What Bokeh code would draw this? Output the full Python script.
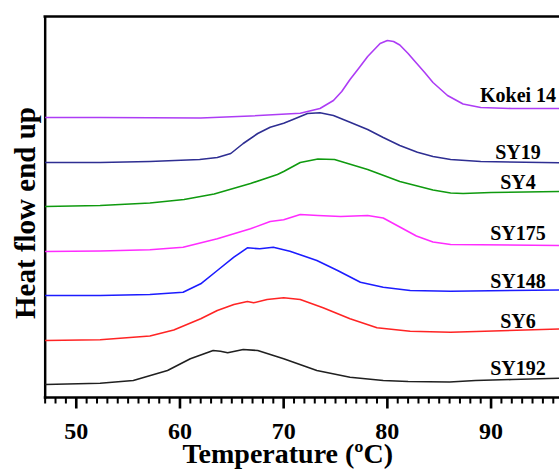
from bokeh.plotting import figure
from bokeh.models import LinearAxis, FixedTicker, Range1d, Title, Span
from bokeh.core.properties import value
from bokeh.embed import file_html
from bokeh.resources import INLINE

# ---- data (temperature in °C, heat flow in arbitrary stacked units) ----
kokei_T = [47.0, 52.3, 57.1, 62.0, 66.8, 71.6, 73.5, 74.8, 75.6, 76.4, 77.3, 78.1, 79.3, 80.0, 80.6, 81.2, 82.0, 82.5, 83.6, 84.4, 85.8, 87.3, 89.0, 92.0, 96.6]
kokei_hf = [280, 280, 279.7, 279.5, 281.5, 284.3, 289, 297, 306, 318, 330, 341, 354, 357, 356, 352.5, 344, 338, 325, 315, 302, 293.5, 290, 289, 289]

sy19_T = [47.0, 52.3, 57.1, 61.9, 63.6, 64.9, 66.1, 67.5, 68.7, 70.0, 70.9, 72.3, 73.5, 74.8, 76.4, 78.1, 79.6, 81.2, 82.9, 84.4, 86.1, 89.0, 96.6]
sy19_hf = [235, 235, 236, 238, 240, 244, 254, 264, 270.3, 274.3, 278, 284, 284.7, 282, 275.3, 268, 260, 252, 245.3, 241, 238, 236, 234.7]

sy4_T = [47.0, 52.3, 57.1, 60.4, 63.3, 66.8, 69.4, 70.0, 71.6, 73.3, 74.9, 78.1, 81.2, 84.4, 86.1, 87.3, 90.0, 96.6]
sy4_hf = [191, 192, 194.5, 198, 203.5, 214, 223, 226, 235, 238.5, 238, 228, 216, 207.5, 204.5, 204, 205, 206]

sy175_T = [47.0, 52.3, 57.1, 60.3, 63.6, 66.8, 68.7, 70.0, 71.6, 73.3, 75.5, 78.1, 79.6, 81.2, 82.8, 84.4, 86.1, 96.6]
sy175_hf = [146, 146.5, 147.7, 150.3, 158.7, 168.7, 176, 177.7, 183, 182, 181, 182, 179.5, 170.5, 161.5, 155.5, 153, 152]

sy148_T = [47.0, 52.3, 57.1, 60.3, 62.0, 63.6, 65.2, 66.5, 67.7, 69.0, 70.6, 73.2, 75.2, 77.4, 79.6, 82.2, 86.1, 96.6]
sy148_hf = [102, 102, 103, 105.3, 113.7, 127, 140.3, 149.7, 148.7, 150.3, 146.3, 137, 127, 115.3, 110.3, 107, 106.3, 107.5]

sy6_T = [47.0, 52.3, 57.1, 59.4, 62.0, 63.6, 65.2, 66.5, 67.1, 68.4, 70.0, 71.6, 73.8, 76.4, 79.0, 82.2, 86.1, 96.6]
sy6_hf = [57, 57.7, 61.5, 67.5, 78.7, 87, 93, 96, 94.7, 98, 99.7, 98, 89.7, 78.7, 69.7, 66.3, 65.3, 68.5]

sy192_T = [47.0, 52.3, 55.5, 58.8, 61.0, 63.2, 63.9, 64.6, 66.1, 67.5, 70.0, 73.2, 76.4, 79.6, 82.0, 86.0, 88.5, 92.0, 96.6]
sy192_hf = [13, 14.3, 17, 27, 38.7, 47, 46.3, 44.7, 48, 47, 38.7, 27, 20.3, 17, 16, 15.5, 17, 18, 19.3]

series_names = ["Kokei 14", "SY19", "SY4", "SY175", "SY148", "SY6", "SY192"]
x_major_ticks = [50, 60, 70, 80, 90]
x_minor_ticks = list(range(47, 97))

# ---- layout / styles ----
X_START, X_END = 46.84, 96.6      # visible temperature window
AXIS_X = 47.0                     # left axis position
Y_TOP = 381
TICK_ROOM = 12                    # room under baseline for outward ticks
MAJOR_LEN, MINOR_LEN = 11, 6
label_x = [92.6] * 7
label_y = [302.5, 246, 216, 165, 117, 76.5, 29.5]
colors = ["#ad3cf5", "#2e2e92", "#0f9a0f", "#ff2cff", "#1c1cff", "#ff2424", "#202020"]
FONT = "Liberation Serif"

p = figure(width=559, height=473, output_backend="svg", toolbar_location=None,
           x_range=Range1d(X_START, X_END), y_range=Range1d(-TICK_ROOM, Y_TOP),
           x_axis_type=None, y_axis_type=None,
           min_border_left=43, min_border_right=0, min_border_top=16, min_border_bottom=64)
p.outline_line_color = None
p.grid.visible = False

# bottom axis: only the tick labels (line and ticks are drawn in the frame below)
xa = LinearAxis(ticker=FixedTicker(ticks=x_major_ticks),
                axis_line_color=None, major_tick_line_color=None, minor_tick_line_color=None,
                major_tick_out=0, major_tick_in=0, minor_tick_out=0, minor_tick_in=0,
                major_label_text_font=FONT, major_label_text_font_style="bold",
                major_label_text_font_size="24px", major_label_text_color="black",
                major_label_standoff=14)
p.add_layout(xa, "below")

# top axis (line only)
ta = LinearAxis(ticker=FixedTicker(ticks=[]), axis_line_width=2.5, axis_line_color="black",
                major_tick_line_color=None, minor_tick_line_color=None,
                major_tick_out=0, minor_tick_out=0, major_label_text_font_size="0px")
p.add_layout(ta, "above")

# x axis baseline, ticks and left axis line
minor_only = [t for t in x_minor_ticks if t not in x_major_ticks]
p.segment(x0=minor_only, x1=minor_only, y0=[0] * len(minor_only),
          y1=[-MINOR_LEN] * len(minor_only), line_color="black", line_width=2,
          line_cap="butt")
p.segment(x0=x_major_ticks, x1=x_major_ticks, y0=[0] * len(x_major_ticks),
          y1=[-MAJOR_LEN] * len(x_major_ticks), line_color="black", line_width=2.6,
          line_cap="butt")
p.add_layout(Span(location=0, dimension="width", line_color="black", line_width=2.5))
p.segment(x0=[AXIS_X], x1=[AXIS_X], y0=[-1.25], y1=[Y_TOP], line_color="black", line_width=2.5)

# titles
xt = Title(text="Temperature (ºC)", align="left", offset=139,
           text_font=FONT, text_font_style="bold", text_font_size="28px",
           text_color="black", standoff=-12)
p.add_layout(xt, "below")
yt = Title(text="Heat flow end up", align="center", offset=0,
           text_font=FONT, text_font_style="bold", text_font_size="29px",
           text_color="black", standoff=5)
p.add_layout(yt, "left")

all_T = [kokei_T, sy19_T, sy4_T, sy175_T, sy148_T, sy6_T, sy192_T]
all_hf = [kokei_hf, sy19_hf, sy4_hf, sy175_hf, sy148_hf, sy6_hf, sy192_hf]
for T, hf, c in zip(all_T, all_hf, colors):
    p.line(T, hf, line_color=c, line_width=1.6, line_join="round")

p.text(x=label_x, y=label_y, text=series_names, text_align="center", text_baseline="middle",
       text_font=value(FONT), text_font_style="bold", text_font_size="20px", text_color="black")

open("out.html", "w").write(file_html(p, INLINE))
